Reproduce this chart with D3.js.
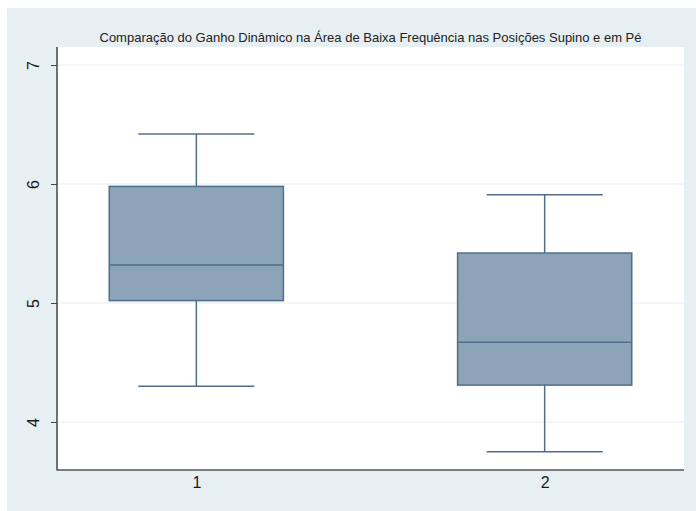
<!DOCTYPE html>
<html>
<head>
<meta charset="utf-8">
<script src="https://cdn.jsdelivr.net/npm/d3@7"></script>
<style>
  html, body { margin: 0; padding: 0; background: #ffffff; }
  svg { display: block; }
</style>
</head>
<body>
<svg id="chart" width="696" height="511"></svg>
<script>
// Box plot summaries per group: lower whisker, Q1, median, Q3, upper whisker
const groups = ["1", "2"];
const whiskerLow = [4.30, 3.75];
const q1 = [5.02, 4.31];
const median = [5.32, 4.67];
const q3 = [5.98, 5.42];
const whiskerHigh = [6.42, 5.91];
const yTicks = [4, 5, 6, 7];
const title = "Comparação do Ganho Dinâmico na Área de Baixa Frequência nas Posições Supino e em Pé";

const svg = d3.select("#chart");
const W = 696, H = 511;
const plot = { left: 57, right: 684, top: 47, bottom: 470 };
const font = "Liberation Sans, Arial, Helvetica, sans-serif";

// outer graph region
svg.append("rect").attr("x", 7).attr("y", 8).attr("width", W - 7).attr("height", H - 8)
  .attr("fill", "#e8eff2");
// plot region
svg.append("rect").attr("x", plot.left).attr("y", plot.top)
  .attr("width", plot.right - plot.left).attr("height", plot.bottom - plot.top)
  .attr("fill", "#ffffff");

const y = d3.scaleLinear().domain([4, 7]).range([422, 65]);
const x = d3.scalePoint().domain(groups).range([plot.left, plot.right]).padding(0.4);
const step = x.step();

// grid lines
svg.append("g").selectAll("line").data(yTicks).join("line")
  .attr("x1", plot.left).attr("x2", plot.right)
  .attr("y1", d => y(d)).attr("y2", d => y(d))
  .attr("stroke", "#e6eef1").attr("stroke-width", 1);

// boxes
const data = groups.map((g, i) => ({
  g, lo: whiskerLow[i], q1: q1[i], med: median[i], q3: q3[i], hi: whiskerHigh[i]
}));
const stroke = "#516f8d", fill = "#8ca3b8";
const boxW = step * 0.5, capW = step / 3;
const gb = svg.append("g");
data.forEach(d => {
  const cx = x(d.g);
  gb.append("line").attr("x1", cx).attr("x2", cx).attr("y1", y(d.hi)).attr("y2", y(d.q3))
    .attr("stroke", stroke).attr("stroke-width", 1.5);
  gb.append("line").attr("x1", cx).attr("x2", cx).attr("y1", y(d.q1)).attr("y2", y(d.lo))
    .attr("stroke", stroke).attr("stroke-width", 1.5);
  gb.append("line").attr("x1", cx - capW / 2).attr("x2", cx + capW / 2)
    .attr("y1", y(d.hi)).attr("y2", y(d.hi)).attr("stroke", stroke).attr("stroke-width", 1.5);
  gb.append("line").attr("x1", cx - capW / 2).attr("x2", cx + capW / 2)
    .attr("y1", y(d.lo)).attr("y2", y(d.lo)).attr("stroke", stroke).attr("stroke-width", 1.5);
  gb.append("rect").attr("x", cx - boxW / 2).attr("y", y(d.q3))
    .attr("width", boxW).attr("height", y(d.q1) - y(d.q3))
    .attr("fill", fill).attr("stroke", stroke).attr("stroke-width", 1.5);
  gb.append("line").attr("x1", cx - boxW / 2).attr("x2", cx + boxW / 2)
    .attr("y1", y(d.med)).attr("y2", y(d.med)).attr("stroke", stroke).attr("stroke-width", 1.5);
});

// y axis
const yAxis = svg.append("g").attr("transform", `translate(${plot.left},0)`)
  .call(d3.axisLeft(y).tickValues(yTicks).tickSize(6).tickPadding(12).tickFormat(d3.format("d")));
yAxis.select(".domain").remove();
yAxis.selectAll(".tick line").attr("stroke", "#444");
yAxis.selectAll(".tick text")
  .attr("fill", "#1a1a1a").attr("font-family", font).attr("font-size", 16)
  .attr("text-anchor", "middle").attr("x", 0).attr("dy", 0)
  .attr("transform", "translate(-22,0) rotate(-90)")
  .attr("dominant-baseline", "middle");

// x axis labels
const xAxis = svg.append("g").attr("transform", `translate(0,${plot.bottom})`)
  .call(d3.axisBottom(x).tickSize(0).tickPadding(7));
xAxis.select(".domain").remove();
xAxis.selectAll(".tick text")
  .attr("fill", "#1a1a1a").attr("font-family", font).attr("font-size", 16);

// axis lines
svg.append("line").attr("x1", plot.left).attr("x2", plot.left)
  .attr("y1", plot.top).attr("y2", plot.bottom + 0.5).attr("stroke", "#444").attr("stroke-width", 1.5);
svg.append("line").attr("x1", plot.left).attr("x2", plot.right)
  .attr("y1", plot.bottom).attr("y2", plot.bottom).attr("stroke", "#555").attr("stroke-width", 1.5);

// title
svg.append("text").attr("x", (plot.left + plot.right) / 2).attr("y", 42)
  .attr("text-anchor", "middle").attr("fill", "#222")
  .attr("font-family", font).attr("font-size", 13)
  .text(title);
</script>
</body>
</html>
